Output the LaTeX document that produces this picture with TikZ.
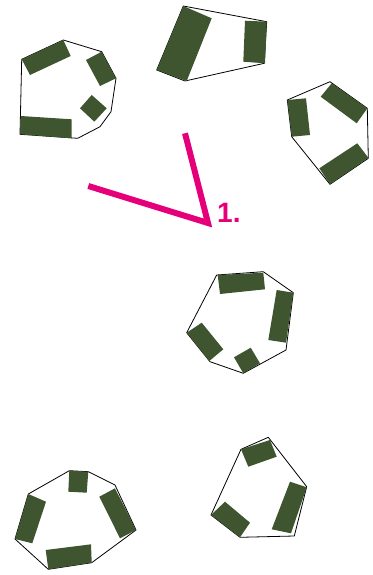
\documentclass[tikz,border=0pt]{standalone}
\usepackage{fontspec}
\setmainfont{Liberation Sans}
\definecolor{blockgreen}{HTML}{3E5530}
\definecolor{markpink}{HTML}{E5007A}
\begin{document}
\begin{tikzpicture}[x=1pt,y=-1pt,
  outline/.style={draw=black,line width=0.8pt,line join=round},
  block/.style={fill=blockgreen},
  marker/.style={draw=markpink,line width=6pt,line join=miter},
  marklabel/.style={text=markpink,font=\bfseries\fontsize{28}{28}\selectfont,inner sep=0pt,anchor=base west}]
\useasboundingbox (0,0) rectangle (372,575);
% shape 1 (top left)
\draw[outline] (21.7,59.3) -- (63.3,40) -- (101.7,51.7) -- (116,78.3) -- (111,111.7) -- (100,126.7) -- (77.7,138.3) -- (20,134.3) -- cycle;
\fill[block] (21.7,59.3) -- (63.3,40) -- (70.7,56) -- (30,75) -- cycle;
\fill[block] (86,60) -- (101.7,51.7) -- (116,78.3) -- (100,86) -- cycle;
\fill[block] (80,108.3) -- (91.7,95) -- (106.7,108.3) -- (94.3,121.7) -- cycle;
\fill[block] (20.7,116) -- (71.7,119.3) -- (71.7,138.3) -- (20,134.3) -- cycle;
% shape 2 (top middle)
\draw[outline] (183.3,6) -- (266.7,21.7) -- (264.3,63.3) -- (185,81) -- (156.7,70) -- cycle;
\fill[block] (183.3,6) -- (211.7,18.3) -- (186.7,81) -- (156.7,70) -- cycle;
\fill[block] (245,20.7) -- (266.7,21.7) -- (265,63.3) -- (243.3,61.7) -- cycle;
% shape 3 (right)
\draw[outline] (287.3,100) -- (330,81.7) -- (367.3,108.3) -- (368.3,158.3) -- (330,184.3) -- (291.7,136.7) -- cycle;
\fill[block] (287.3,100) -- (306,98.3) -- (310,135) -- (291.7,136.7) -- cycle;
\fill[block] (320.7,96.7) -- (331.7,83.3) -- (367.3,108.3) -- (356.7,123.3) -- cycle;
\fill[block] (319.3,168.3) -- (357.3,143.3) -- (368.3,157.7) -- (330,184.3) -- cycle;
% marker
\coordinate (mA) at (88.3,186);
\coordinate (mV) at (208,223);
\coordinate (mB) at (185,133.3);
\draw[marker] (mA) -- (mV) -- (mB);
\node[marklabel] (lbl) at (217,222.5) {1.};
% shape 5 (middle)
\draw[outline] (216.7,275) -- (263.3,271.7) -- (293.3,292.7) -- (286,350) -- (243.3,373.3) -- (210,361.7) -- (186.7,332.7) -- cycle;
\fill[block] (217.7,275) -- (263.3,272.7) -- (265,289.3) -- (220,294) -- cycle;
\fill[block] (276.7,290) -- (293.3,292.7) -- (286,342.7) -- (268.3,340) -- cycle;
\fill[block] (186.7,332.7) -- (201.7,322.7) -- (223.3,349.3) -- (209.3,361) -- cycle;
\fill[block] (234,357.3) -- (250.7,347.7) -- (260,363.3) -- (243.3,373.3) -- cycle;
% shape 6 (bottom left)
\draw[outline] (28.3,494) -- (69.3,470.7) -- (88.3,471.7) -- (115,485) -- (136,530) -- (91.7,562.7) -- (48.3,569.3) -- (15,539) -- cycle;
\fill[block] (69.3,470.7) -- (88.3,471.7) -- (86.7,492.7) -- (68.3,491.7) -- cycle;
\fill[block] (99.3,496.7) -- (115,488.3) -- (136,530) -- (120,538.3) -- cycle;
\fill[block] (45.7,550) -- (91,544.3) -- (91.7,562.7) -- (48.3,569.3) -- cycle;
\fill[block] (28.3,494) -- (46,501.7) -- (32.3,543.3) -- (15,539) -- cycle;
% shape 7 (bottom right)
\draw[outline] (241,449.3) -- (268.3,437.3) -- (306.7,486.7) -- (294.3,536) -- (240,537.3) -- (211,515) -- cycle;
\fill[block] (241,449.3) -- (270,440) -- (276.7,456.7) -- (248.3,466.7) -- cycle;
\fill[block] (290,481.7) -- (306.7,487.3) -- (291,533.3) -- (271.7,529.3) -- cycle;
\fill[block] (211,515) -- (225,501.7) -- (250,522.7) -- (240,537.3) -- cycle;
\end{tikzpicture}
\end{document}
